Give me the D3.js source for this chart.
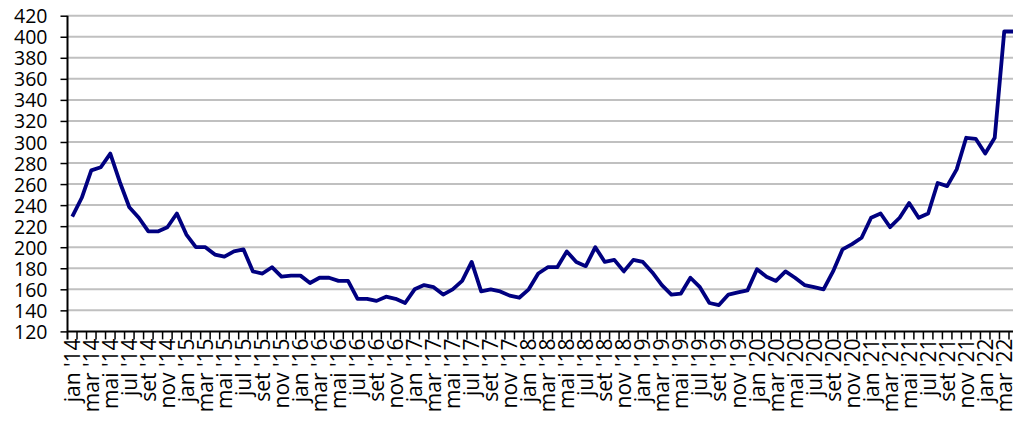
<!DOCTYPE html>
<html>
<head>
<meta charset="utf-8">
<script src="https://cdn.jsdelivr.net/npm/d3@7"></script>
<style>
  body { margin: 0; background: #fff; }
  svg text { font-family: "Open Sans", sans-serif; fill: #000; }
</style>
</head>
<body>
<div id="chart"></div>
<script>
// month names (pt) and years shown on the x axis
var months = ["jan", "fev", "mar", "abr", "mai", "jun", "jul", "ago", "set", "out", "nov", "dez"];
var years = ["14", "15", "16", "17", "18", "19", "20", "21", "22"];
var yTicks = [120, 140, 160, 180, 200, 220, 240, 260, 280, 300, 320, 340, 360, 380, 400, 420];

// monthly index values, jan '14 .. abr '22
var values = [
  229, 247, 273, 276, 289, 262, 238, 228, 215, 215, 219, 232,
  212, 200, 200, 193, 191, 196, 198, 177, 175, 181, 172, 173,
  173, 166, 171, 171, 168, 168, 151, 151, 149, 153, 151, 147,
  160, 164, 162, 155, 160, 168, 186, 158, 160, 158, 154, 152,
  160, 175, 181, 181, 196, 186, 182, 200, 186, 188, 177, 188,
  186, 176, 164, 155, 156, 171, 162, 147, 145, 155, 157, 159,
  179, 172, 168, 177, 171, 164, 162, 160, 177, 198, 203, 209,
  228, 232, 219, 228, 242, 228, 232, 261, 258, 274, 304, 303,
  289, 304, 405, 405
];

var categories = [];
years.forEach(function(y) {
  months.forEach(function(m) { categories.push(m + " '" + y); });
});
categories = categories.slice(0, values.length);

var W = 1013, H = 428;
var mLeft = 67.5, mTop = 15.7, mBottom = 331.4;
var band = 9.51;

var svg = d3.select("#chart").append("svg")
  .attr("width", W).attr("height", H);

var x = d3.scaleBand()
  .domain(categories)
  .range([mLeft, mLeft + band * categories.length]);

var y = d3.scaleLinear()
  .domain([120, 420])
  .range([mBottom, mTop]);

// gridlines
svg.append("g")
  .selectAll("line")
  .data(yTicks.filter(function(d) { return d > 120; }))
  .enter().append("line")
  .attr("x1", mLeft).attr("x2", W)
  .attr("y1", function(d) { return y(d); })
  .attr("y2", function(d) { return y(d); })
  .attr("stroke", "#c0c0c0")
  .attr("stroke-width", 2);

// y axis
var yAxis = svg.append("g")
  .attr("transform", "translate(" + mLeft + ",0)")
  .call(d3.axisLeft(y).tickValues(yTicks).tickSize(7).tickPadding(13).tickFormat(d3.format("d")));
yAxis.select(".domain").attr("stroke", "#000").attr("stroke-width", 2)
  .attr("d", "M0," + mTop + "V" + (mBottom + 8));
yAxis.selectAll(".tick line").attr("stroke", "#000").attr("stroke-width", 1.5);
yAxis.selectAll(".tick text").style("font-size", "19.5px").attr("dy", "0.36em");

// x axis: line, ticks at band edges, labels every 2 months
var xg = svg.append("g");
xg.append("line")
  .attr("x1", mLeft).attr("x2", W)
  .attr("y1", mBottom).attr("y2", mBottom)
  .attr("stroke", "#000").attr("stroke-width", 2);
xg.selectAll(".xt")
  .data(categories)
  .enter().append("line")
  .attr("class", "xt")
  .attr("x1", function(d) { return x(d) + band; })
  .attr("x2", function(d) { return x(d) + band; })
  .attr("y1", mBottom).attr("y2", mBottom + 8)
  .attr("stroke", "#000").attr("stroke-width", 1.5);
xg.selectAll(".xl")
  .data(categories.filter(function(d, i) { return i % 2 === 0; }))
  .enter().append("text")
  .attr("class", "xl")
  .attr("transform", function(d) {
    return "translate(" + (x(d) + band / 2) + "," + (mBottom + 7) + ") rotate(-90)";
  })
  .attr("text-anchor", "end")
  .attr("dy", "0.36em")
  .style("font-size", "21px")
  .text(function(d) { return d; });

// the series line
var line = d3.line()
  .x(function(d, i) { return x(categories[i]) + band / 2; })
  .y(function(d) { return y(d); });

svg.append("path")
  .datum(values)
  .attr("d", line)
  .attr("fill", "none")
  .attr("stroke", "#000080")
  .attr("stroke-width", 3.8)
  .attr("stroke-linejoin", "round");
</script>
</body>
</html>
